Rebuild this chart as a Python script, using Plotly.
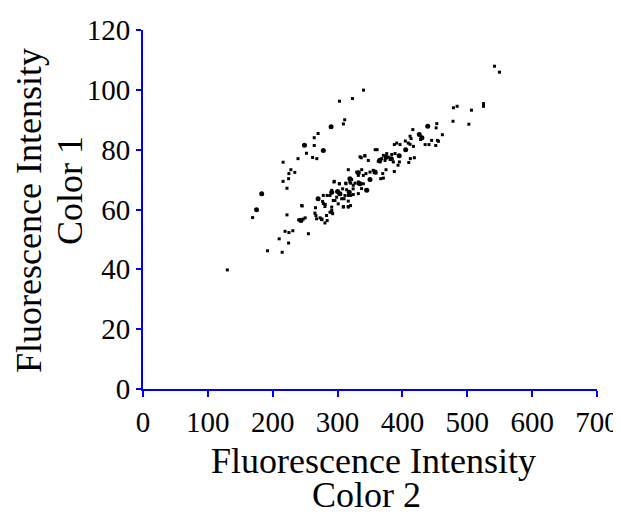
import plotly.graph_objects as go

# Small points (Color 2 intensity, Color 1 intensity)
small_x = [340, 303, 323, 311, 309, 270, 264, 264, 252, 261.5, 268, 239, 216, 228, 234, 225, 224.5, 216, 222,
           169, 222, 245.5, 219, 225, 231, 255, 210, 224.5, 192, 214.6, 130,
           240, 247, 250, 242, 267.7, 275.4, 291, 265, 283, 244.6,
           266, 277, 281, 280.5, 266.6, 273, 276, 280.5, 284, 291, 292.4, 302, 295, 303, 312.5, 319, 327,
           310, 316.5, 320, 309, 316.5, 278, 284, 332, 332, 337, 278, 296, 316.5, 324,
           478.6, 484.3, 506.4, 478, 502.4, 453, 452, 461.6, 416, 428, 435, 441, 445, 451.4, 454, 455.5,
           411.8, 413.3, 409, 411.8, 417, 404.5, 387.5, 391.2, 396.3, 358, 361, 341.8, 336.5, 347.4, 334.6, 342.3,
           370.6, 375.8, 383.5, 388.6, 368, 365.5, 373.2, 381, 386, 378.3, 362.8, 395.3, 393.2, 412.2, 418.4, 409.8,
           387.5, 374.7, 369.6, 370.6, 366.5, 359.3, 355, 350, 343.8, 337.2, 329.5, 332, 339.7, 316.5,
           321.7, 320.2, 324.2, 313, 307.8, 302.6, 294.4, 332, 339.7, 343.8, 314, 311.4, 320.2, 324.2,
           291, 288.3, 298.6, 306.3, 293.4, 301, 308.8, 316.5, 291, 288.3,
           542, 549.6, 525, 525]
small_y = [99.9, 96.2, 97.1, 90, 88.6, 85.4, 84, 81.4, 78.8, 77.4, 77, 77, 75.8, 73.3, 72.4, 72, 70.3, 69.4, 67.1,
           57.3, 58.2, 61.2, 52.7, 52.3, 52.9, 51.9, 50.2, 48.8, 46.2, 45.7, 39.8,
           56.5, 56.8, 57.2, 56.6, 56.9, 56.6, 59.1, 58.8, 58, 61.3,
           60.6, 62.7, 61.7, 61, 58, 57.2, 56.8, 55.5, 56.3, 59.7, 58.6, 65.3, 69.4, 68.6, 68.8, 69.2, 68.8,
           63.6, 62.8, 61.3, 61, 61, 64.7, 64.7, 68.6, 65.3, 67, 62, 63, 64.7, 66.9,
           94, 94.5, 93.2, 89.5, 88.5, 88.7, 87.3, 85, 86.7, 83.4, 81.7, 81.7, 83.1, 81.4, 83.1, 82.8,
           84.5, 83.7, 82.2, 81.8, 81.1, 82.9, 81.7, 82.2, 81.7, 80, 80, 77.9, 77.3, 76.4, 77.6, 78,
           78.1, 78.7, 78.4, 78.7, 77, 75.9, 76.4, 76.7, 75.9, 77.5, 76.1, 75.9, 74.8, 77, 77.3, 75.7,
           72.7, 73.3, 72, 70.5, 70.3, 72.2, 73.1, 72.5, 72, 73.3, 72.5, 71.4, 71.4, 73.3,
           70, 68.8, 68.1, 68.6, 66.9, 68.6, 69.2, 69.2, 68.6, 66.6, 66.6, 64.7, 64.7, 65,
           66.4, 64.7, 64.1, 63.6, 63, 61.9, 60.8, 60.8, 60.8, 59.1,
           107.9, 105.9, 95.4, 94.5]

# Larger (overlapping) points
big_x = [183, 175, 249, 278, 290, 270, 291, 439, 426, 243.5, 375, 383, 365, 318, 350, 300, 395, 430, 405,
         303.7, 334.6, 345, 332, 357.7, 319]
big_y = [65.3, 59.9, 81.5, 79.7, 87.7, 63.6, 65.8, 87.8, 85.1, 56.3, 77.5, 77, 76.5, 65.8, 70, 66, 78, 84, 80,
         65.3, 68.6, 66.4, 72.3, 72.5, 70.3]

x_ticks = [0, 100, 200, 300, 400, 500, 600, 700]
y_ticks = [0, 20, 40, 60, 80, 100, 120]

FONT = "Liberation Serif, Times New Roman, serif"
BLUE = "#0000EE"

fig = go.Figure()
fig.add_trace(go.Scatter(x=small_x, y=small_y, mode="markers",
                         marker=dict(symbol="square", size=3, color="black"), showlegend=False))
fig.add_trace(go.Scatter(x=big_x, y=big_y, mode="markers",
                         marker=dict(symbol="circle", size=5, color="black"), showlegend=False))

# page offset of the plot div (body margin)
OFF = 8
W, H = 621 - OFF, 514 - OFF
L, R, T, B = 143 - OFF, 24, 30 - OFF, 125
pw, ph = W - L - R, H - T - B

def px(x):  # page pixel -> paper
    return (x - OFF - L) / pw

def py(y):
    return (H - B - (y - OFF)) / ph

fig.update_layout(
    width=W, height=H,
    margin=dict(l=L, r=R, t=T, b=B, autoexpand=False),
    plot_bgcolor="white", paper_bgcolor="white",
    font=dict(family=FONT, size=29, color="black"),
    xaxis=dict(range=[0, 700], tickvals=x_ticks, showgrid=False, zeroline=False,
               showline=True, linecolor=BLUE, linewidth=2, automargin=False,
               ticks="outside", ticklen=6, tickwidth=2, tickcolor=BLUE,
               tickfont=dict(family=FONT, size=29, color="black")),
    yaxis=dict(range=[0, 120], tickvals=y_ticks, showgrid=False, zeroline=False,
               showline=True, linecolor=BLUE, linewidth=2, automargin=False,
               ticks="outside", ticklen=5, tickwidth=2, tickcolor=BLUE,
               tickfont=dict(family=FONT, size=29, color="black")),
    annotations=[
        dict(text="Fluorescence Intensity", xref="paper", yref="paper", x=px(373), y=py(461),
             xanchor="center", yanchor="middle", showarrow=False, font=dict(family=FONT, size=36)),
        dict(text="Color 2", xref="paper", yref="paper", x=px(366), y=py(495),
             xanchor="center", yanchor="middle", showarrow=False, font=dict(family=FONT, size=36)),
        dict(text="Fluorescence Intensity", xref="paper", yref="paper", x=px(29), y=py(211),
             xanchor="center", yanchor="middle", textangle=-90, showarrow=False, font=dict(family=FONT, size=36)),
        dict(text="Color 1", xref="paper", yref="paper", x=px(70), y=py(191),
             xanchor="center", yanchor="middle", textangle=-90, showarrow=False, font=dict(family=FONT, size=36)),
    ],
)

fig.write_html("out.html")
